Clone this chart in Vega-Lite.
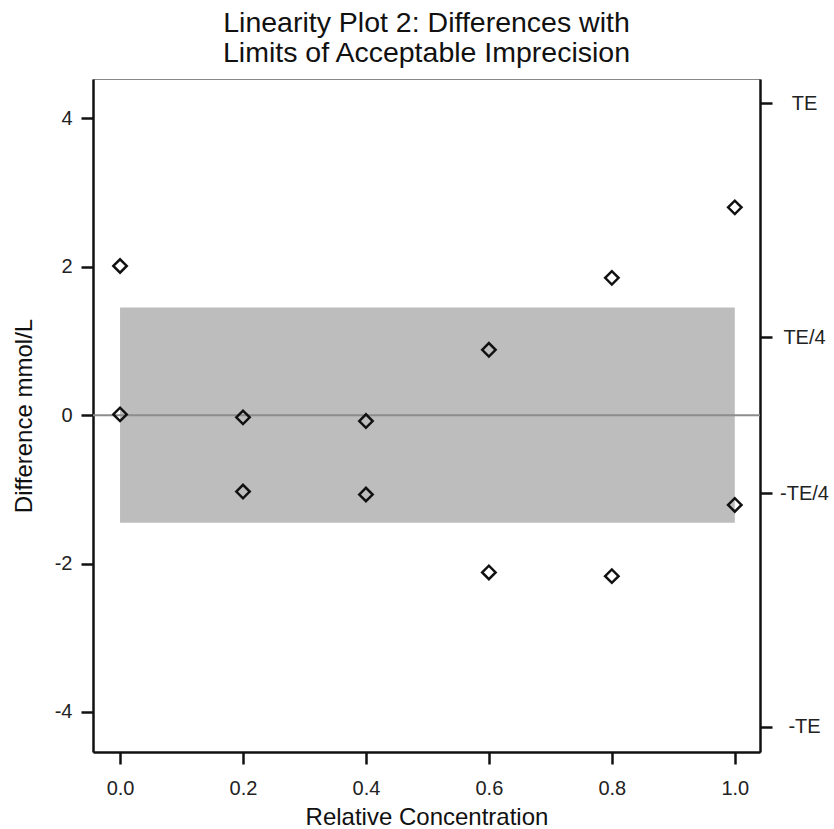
{
  "$schema": "https://vega.github.io/schema/vega-lite/v6.json",
  "autosize": {"type": "none"},
  "padding": {"left": 93, "top": 79, "right": 74, "bottom": 77},
  "width": 667,
  "height": 673,
  "background": "white",
  "title": {
    "text": ["Linearity Plot 2: Differences with", "Limits of Acceptable Imprecision"],
    "font": "Liberation Sans",
    "fontSize": 28.5,
    "fontWeight": "normal",
    "color": "#111",
    "lineHeight": 30,
    "anchor": "middle",
    "frame": "group",
    "offset": 12
  },
  "config": {
    "view": {"stroke": "#888", "strokeWidth": 1},
    "axis": {
      "grid": false,
      "domainColor": "#111",
      "domainWidth": 2.5,
      "tickColor": "#111",
      "tickWidth": 2.5,
      "tickSize": 12,
      "labelFont": "Liberation Sans",
      "labelFontSize": 20,
      "labelColor": "#222",
      "titleFont": "Liberation Sans",
      "titleFontSize": 24,
      "titleFontWeight": "normal",
      "titleColor": "#111"
    }
  },
  "datasets": {
    "points": [
      {"conc": 0.0, "diff": 2.01},
      {"conc": 0.0, "diff": 0.01},
      {"conc": 0.2, "diff": -0.03},
      {"conc": 0.2, "diff": -1.03},
      {"conc": 0.4, "diff": -0.08},
      {"conc": 0.4, "diff": -1.07},
      {"conc": 0.6, "diff": 0.88},
      {"conc": 0.6, "diff": -2.12},
      {"conc": 0.8, "diff": 1.85},
      {"conc": 0.8, "diff": -2.17},
      {"conc": 1.0, "diff": 2.80},
      {"conc": 1.0, "diff": -1.21}
    ],
    "band": [{"start": 0.0, "end": 1.0, "low": -1.45, "high": 1.45}],
    "zero": [{"level": 0}]
  },
  "layer": [
    {
      "data": {"name": "band"},
      "mark": {"type": "rect", "color": "#bdbdbd"},
      "encoding": {
        "x": {"field": "start", "type": "quantitative", "scale": {"domain": [-0.044, 1.041], "nice": false, "zero": false}},
        "x2": {"field": "end"},
        "y": {"field": "low", "type": "quantitative", "scale": {"domain": [-4.54, 4.53], "nice": false, "zero": false}, "axis": null},
        "y2": {"field": "high"}
      }
    },
    {
      "data": {"name": "zero"},
      "mark": {"type": "rule", "color": "#8c8c8c", "strokeWidth": 2},
      "encoding": {
        "y": {
          "field": "level",
          "type": "quantitative",
          "scale": {"domain": [-4.54, 4.53], "nice": false, "zero": false},
          "axis": {
            "orient": "right",
            "title": null,
            "values": [4.2, 1.05, -1.05, -4.2],
            "labelExpr": "datum.value > 3 ? 'TE' : datum.value > 0 ? 'TE/4' : datum.value > -3 ? '-TE/4' : '-TE'",
            "labelAlign": "center",
            "labelPadding": 32,
            "labelBaseline": "middle"
          }
        }
      }
    },
    {
      "data": {"name": "points"},
      "mark": {"type": "point", "shape": "diamond", "filled": false, "stroke": "#111", "strokeWidth": 2.5, "size": 180, "opacity": 1},
      "encoding": {
        "x": {
          "field": "conc",
          "type": "quantitative",
          "scale": {"domain": [-0.044, 1.041], "nice": false, "zero": false},
          "axis": {
            "title": "Relative Concentration",
            "values": [0, 0.2, 0.4, 0.6, 0.8, 1.0],
            "format": ".1f",
            "labelPadding": 14,
            "titlePadding": 7
          }
        },
        "y": {
          "field": "diff",
          "type": "quantitative",
          "scale": {"domain": [-4.54, 4.53], "nice": false, "zero": false},
          "axis": {
            "orient": "left",
            "title": "Difference mmol/L",
            "values": [-4, -2, 0, 2, 4],
            "labelExpr": "datum.value < 0 ? '-' + abs(datum.value) : '' + datum.value",
            "labelAlign": "right",
            "labelPadding": 9,
            "titlePadding": 18
          }
        }
      }
    }
  ],
  "resolve": {"scale": {"y": "independent"}, "axis": {"y": "independent"}}
}
